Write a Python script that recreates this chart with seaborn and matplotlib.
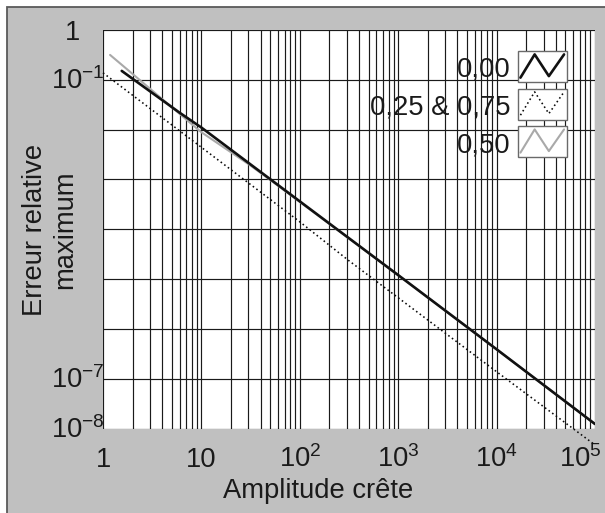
import matplotlib
matplotlib.use("Agg")
import matplotlib.pyplot as plt
import matplotlib.transforms as mtrans
from matplotlib.patches import Rectangle
from matplotlib.lines import Line2D
from matplotlib.ticker import FixedLocator, NullFormatter, NullLocator, LogLocator
import pandas as pd
import seaborn as sns

# Maximum relative error versus peak amplitude, one curve per phase offset
phase_labels = ["0,00", "0,25 & 0,75", "0,50"]

amp_000 = [1.55, 6.0, 10, 100, 1000, 10000, 100000]
err_000 = [0.151, 0.0219, 0.0110, 3.63e-4, 1.20e-5, 3.89e-7, 1.23e-8]

amp_025 = [1.0, 5.6, 100, 310, 10000, 100000]
err_025 = [0.138, 0.0105, 1.41e-4, 2.40e-5, 1.38e-7, 4.68e-9]

amp_050 = [1.18, 2.35, 9.8, 31, 50, 1000, 10000, 100000]
err_050 = [0.316, 0.100, 9.12e-3, 1.95e-3, 9.77e-4, 1.20e-5, 3.89e-7, 1.23e-8]

x_ticks = [1, 10, 1e2, 1e3, 1e4, 1e5]
x_tick_labels = ["1", "10", r"$\mathregular{10^{2}}$", r"$\mathregular{10^{3}}$",
                 r"$\mathregular{10^{4}}$", r"$\mathregular{10^{5}}$"]
y_ticks = [1, 1e-1, 1e-2, 1e-3, 1e-4, 1e-5, 1e-6, 1e-7, 1e-8]
y_tick_labels = ["1", r"$\mathregular{10^{-1}}$", "", "", "", "", "",
                 r"$\mathregular{10^{-7}}$", r"$\mathregular{10^{-8}}$"]

sns.set_style("white")
plt.rcParams["font.family"] = ["Liberation Sans", "DejaVu Sans"]
plt.rcParams["mathtext.fontset"] = "custom"
plt.rcParams["mathtext.rm"] = "Liberation Sans"

FS = 19.7
DPI = 100
W, H = 605, 513
TXT = "#1a1a1a"
fig = plt.figure(figsize=(W / DPI, H / DPI), dpi=DPI, facecolor="white")

# grey panel behind the plot, framed on its top and left edges
fig.patches.append(Rectangle((7 / W, -0.1), 1.2, 1 - 7 / H + 0.1, transform=fig.transFigure,
                             facecolor="#c0c0c0", edgecolor="#5a5a5a", lw=1.3, zorder=-5))

ax = fig.add_axes([103 / W, 1 - 428.5 / H, (595 - 103) / W, (428.5 - 30) / H])
ax.set_facecolor("white")

styles = {
    "0,00": dict(color="#111111", lw=1.9, linestyle="-"),
    "0,25 & 0,75": dict(color="#0a0a0a", lw=1.15, linestyle=(0, (1.0, 1.8))),
    "0,50": dict(color="#a9a9a9", lw=1.5, linestyle="-"),
}

df_050 = pd.DataFrame({"amp": amp_050, "err": err_050})
df_025 = pd.DataFrame({"amp": amp_025, "err": err_025})
df_000 = pd.DataFrame({"amp": amp_000, "err": err_000})

sns.lineplot(data=df_050, x="amp", y="err", ax=ax, zorder=3, **styles["0,50"])
sns.lineplot(data=df_025, x="amp", y="err", ax=ax, zorder=4, clip_on=False,
             **styles["0,25 & 0,75"])
sns.lineplot(data=df_000, x="amp", y="err", ax=ax, zorder=5, **styles["0,00"])

ax.set_xscale("log")
ax.set_yscale("log")
ax.set_xlim(1, 1e5)
ax.set_ylim(1e-8, 1)
ax.set_xlabel("")
ax.set_ylabel("")

ax.xaxis.set_major_locator(FixedLocator(x_ticks))
ax.xaxis.set_minor_locator(LogLocator(base=10, subs=range(2, 10), numticks=50))
ax.yaxis.set_major_locator(FixedLocator(y_ticks))
ax.yaxis.set_minor_locator(NullLocator())
ax.xaxis.set_major_formatter(NullFormatter())
ax.xaxis.set_minor_formatter(NullFormatter())
ax.yaxis.set_major_formatter(NullFormatter())

ax.grid(which="major", axis="both", color="#1a1a1a", lw=0.85)
ax.grid(which="minor", axis="x", color="#1a1a1a", lw=0.85)
ax.set_axisbelow(True)

for side in ["top", "right", "left", "bottom"]:
    ax.spines[side].set_visible(False)
ax.spines["left"].set_position(("outward", 2.2))
ax.spines["bottom"].set_position(("outward", 2.2))
ax.tick_params(which="major", length=2.2, width=0.8, color="#555555", direction="out")
ax.tick_params(which="minor", length=0)

px = lambda dx, dy: mtrans.ScaledTranslation(dx / DPI, dy / DPI, fig.dpi_scale_trans)
ytrans = mtrans.blended_transform_factory(ax.transAxes, ax.transData)
xtrans = mtrans.blended_transform_factory(ax.transData, ax.transAxes)

for val, lab in zip(y_ticks, y_tick_labels):
    if not lab:
        continue
    if lab == "1":
        ax.text(0, val, lab, transform=ytrans + px(-23, -9.5), ha="right", va="baseline",
                fontsize=FS, color=TXT)
    else:
        ax.text(0, val, lab, transform=ytrans + px(-52, -9.5), ha="left", va="baseline",
                fontsize=FS, color=TXT)

for i, (val, lab) in enumerate(zip(x_ticks, x_tick_labels)):
    if i == len(x_ticks) - 1:
        ax.text(val, 0, lab, transform=xtrans + px(7, -38.5), ha="right", va="baseline",
                fontsize=FS, color=TXT)
    else:
        ax.text(val, 0, lab, transform=xtrans + px(0, -38.5), ha="center", va="baseline",
                fontsize=FS, color=TXT)

fig.text(318 / W, 1 - 498 / H, "Amplitude crête", ha="center", va="baseline",
         fontsize=FS, color=TXT)
fig.text(50 / W, 1 - 230 / H, "Erreur relative\nmaximum", rotation=90, ha="center",
         va="center", multialignment="center", fontsize=FS, color=TXT)

# legend: label on the left, framed zigzag key on the right
fx = lambda x: x / W
fy = lambda y: 1 - y / H
key_left, key_w, key_h, row_top0, row_step = 518, 49, 31, 51, 37.5
zig_x = [0.05, 0.34, 0.63, 0.94]
zig_y = [0.86, 0.11, 0.81, 0.11]
for i, lab in enumerate(phase_labels):
    top = row_top0 + i * row_step
    fig.patches.append(Rectangle((fx(key_left), fy(top + key_h)), key_w / W, key_h / H,
                                 transform=fig.transFigure, facecolor="white",
                                 edgecolor="#6a6a6a", lw=1.0, zorder=10))
    fig.lines.append(Line2D([fx(key_left + f * key_w) for f in zig_x],
                            [fy(top + f * key_h) for f in zig_y],
                            transform=fig.transFigure, zorder=11, **styles[lab]))
    fig.text(fx(key_left - 7), fy(top + 26), lab, ha="right", va="baseline",
             fontsize=FS, color=TXT, zorder=11)

fig.savefig("out.png", dpi=DPI, facecolor=fig.get_facecolor())
